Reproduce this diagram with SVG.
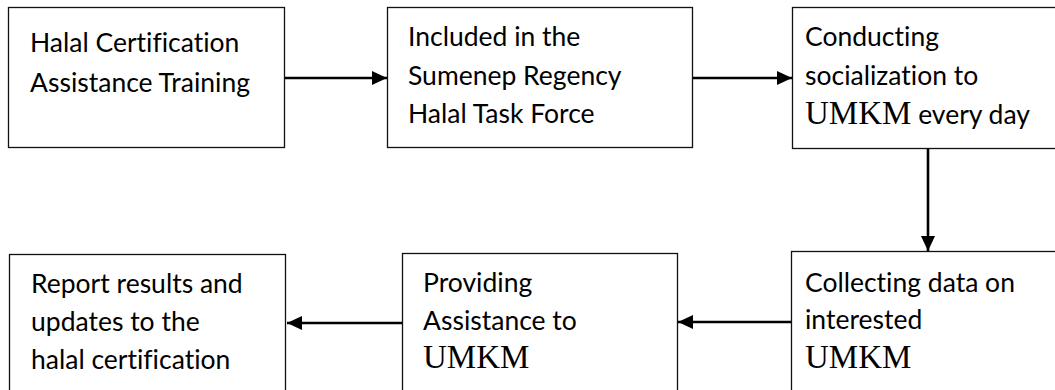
<svg xmlns="http://www.w3.org/2000/svg" width="1055" height="390" viewBox="0 0 1055 390">
<style>
.box{fill:#fff;stroke:#111;stroke-width:1.3}
.t{font-family:Lato,"Liberation Sans",sans-serif;font-size:26.5px;fill:#000;font-variant-ligatures:none}
.s{font-family:"Liberation Serif","Times New Roman",serif;font-size:33px;fill:#000}
.c{stroke:#000;stroke-width:2.6;fill:none;marker-end:url(#ah)}
</style>
<defs>
<marker id="ah" markerUnits="userSpaceOnUse" markerWidth="16" markerHeight="14" refX="15" refY="7" orient="auto">
<path d="M0,0 L15,7 L0,14 Z" fill="#000"/>
</marker>
</defs>
<rect width="1055" height="390" fill="#fff"/>
<g id="n1"><rect class="box" x="8.5" y="7.5" width="276" height="140"/>
<text class="t" x="30" y="52">Halal Certification</text>
<text class="t" x="30" y="92">Assistance Training</text></g>
<g id="n2"><rect class="box" x="387.5" y="7.5" width="305" height="140"/>
<text class="t" x="408" y="46">Included in the</text>
<text class="t" x="408" y="85">Sumenep Regency</text>
<text class="t" x="408" y="123">Halal Task Force</text></g>
<g id="n3"><rect class="box" x="792.5" y="7.5" width="300" height="141"/>
<text class="t" x="805" y="46">Conducting</text>
<text class="t" x="805" y="85">socialization to</text>
<text x="805" y="124"><tspan class="s">UMKM</tspan><tspan class="t"> every day</tspan></text></g>
<g id="n4"><rect class="box" x="9.5" y="254.5" width="276" height="150"/>
<text class="t" x="31" y="293">Report results and</text>
<text class="t" x="31" y="331">updates to the</text>
<text class="t" x="31" y="369">halal certification</text></g>
<g id="n5"><rect class="box" x="402.5" y="253.5" width="275" height="150"/>
<text class="t" x="423" y="292">Providing</text>
<text class="t" x="423" y="330">Assistance to</text>
<text class="s" x="423" y="368">UMKM</text></g>
<g id="n6"><rect class="box" x="791.5" y="251.5" width="300" height="150"/>
<text class="t" x="805" y="292">Collecting data on</text>
<text class="t" x="805" y="329">interested</text>
<text class="s" x="805" y="368">UMKM</text></g>
<g id="connectors">
<line class="c" x1="285" y1="78" x2="387" y2="78"/>
<line class="c" x1="693" y1="78" x2="792" y2="78"/>
<line class="c" x1="928" y1="149" x2="928" y2="251"/>
<line class="c" x1="791" y1="322" x2="678" y2="322"/>
<line class="c" x1="402" y1="323" x2="287" y2="323"/>
</g>
</svg>
